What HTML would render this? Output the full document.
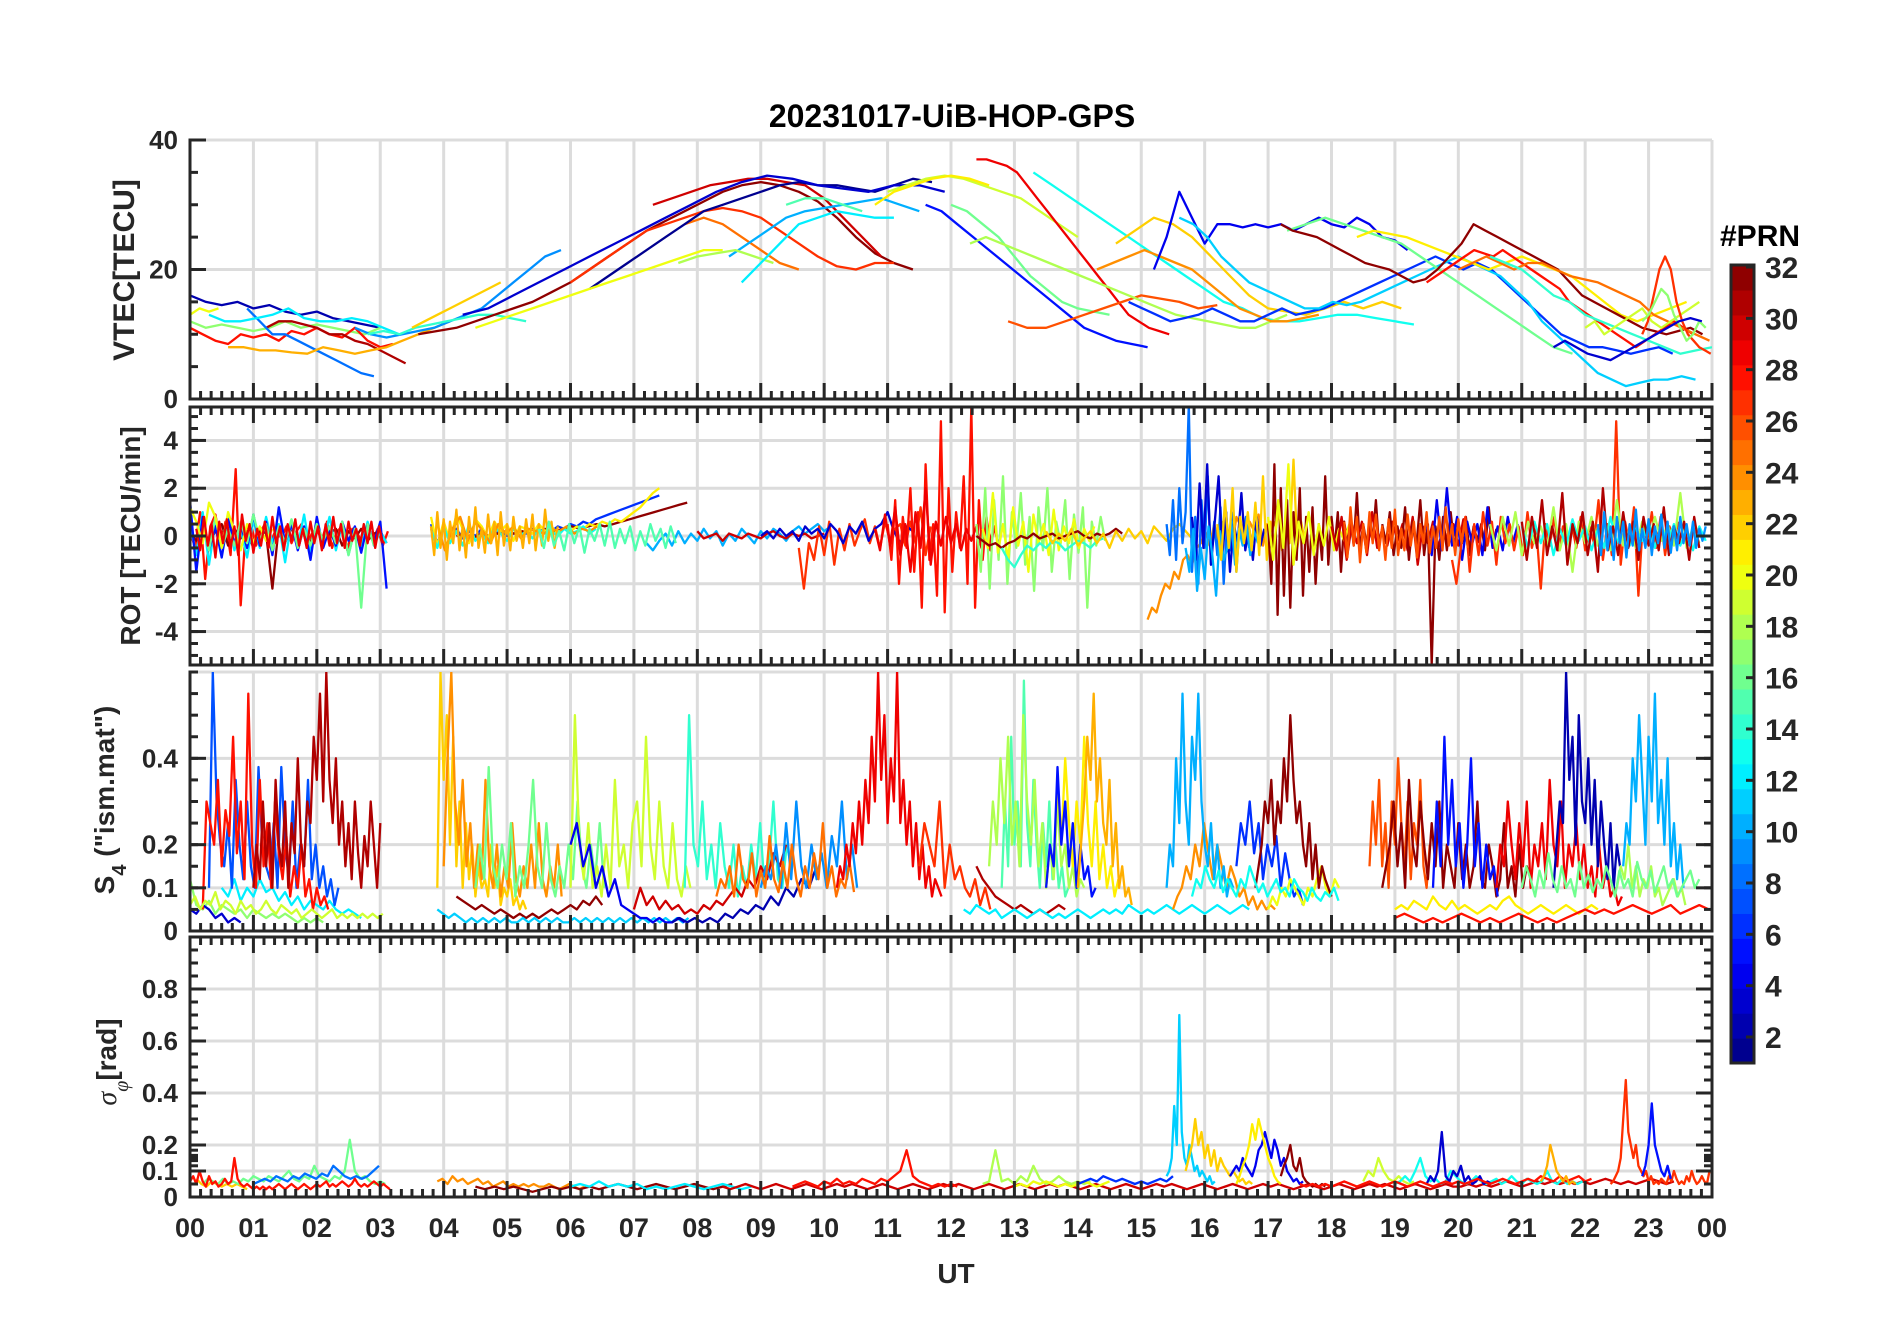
<!DOCTYPE html>
<html><head><meta charset="utf-8"><title>20231017-UiB-HOP-GPS</title>
<style>
html,body{margin:0;padding:0;background:#fff;}
svg{display:block;font-family:"Liberation Sans",Arial,sans-serif;}
</style></head>
<body>
<svg id="chart" width="1902" height="1330" viewBox="0 0 1902 1330" xmlns="http://www.w3.org/2000/svg">
<rect x="0" y="0" width="1902" height="1330" fill="#fff"/>
<text x="952" y="127" text-anchor="middle" font-size="32" font-weight="bold" fill="#000">20231017-UiB-HOP-GPS</text>
<text x="956" y="1283" text-anchor="middle" font-size="28" font-weight="bold" fill="#262626">UT</text>
<text transform="translate(134,270) rotate(-90)" text-anchor="middle" font-size="30" font-weight="bold" fill="#262626">VTEC[TECU]</text>
<text transform="translate(140,536) rotate(-90)" text-anchor="middle" font-size="28" font-weight="bold" fill="#262626">ROT [TECU/min]</text>
<text transform="translate(114,800) rotate(-90)" text-anchor="middle" font-size="28" font-weight="bold" fill="#262626">S<tspan font-size="20" dy="12">4</tspan><tspan dy="-12"> ("ism.mat")</tspan></text>
<text transform="translate(116,1062) rotate(-90)" text-anchor="middle" font-size="28" font-weight="bold" fill="#262626"><tspan font-family="Liberation Serif, serif" font-style="italic" font-weight="normal">σ</tspan><tspan font-size="20" dy="12" font-family="Liberation Serif, serif" font-style="italic" font-weight="normal">φ</tspan><tspan dy="-12">[rad]</tspan></text>
<text x="1720" y="246" font-size="30" font-weight="bold" fill="#000">#PRN</text>
<g id="layer"></g>
</svg>
<script>
// ---------- data ----------
const xTickHours = [0,1,2,3,4,5,6,7,8,9,10,11,12,13,14,15,16,17,18,19,20,21,22,23,24];
const xTickLabels = ["00","01","02","03","04","05","06","07","08","09","10","11","12","13","14","15","16","17","18","19","20","21","22","23","00"];
const vtecTicks = [0,20,40];
const rotTicks = [-4,-2,0,2,4];
const s4Ticks = [0,0.1,0.2,0.4];
const sigTicks = [0,0.1,0.2,0.4,0.6,0.8];
const prnTicks = [2,4,6,8,10,12,14,16,18,20,22,24,26,28,30,32];

// each series: [prn, startHour, stepHours, values]
const vtecSeries = [
[2,0,0.25,[16,15,14.5,15,14,14.5,13.5,13,13.5,12.5,12,11.5,11]],
[20,0,0.15,[13,14,13.5,14]],
[17,0,0.25,[12,11,11.5,11,10.5,11,12,11,11.5,11,10.5,10,11]],
[28,0,0.2,[11,10,9,8.5,10,9.5,10,9,10.5,10,11,10,9.5,11,9,8,8.5]],
[31,1.2,0.2,[11,12,12,11.5,11,10,10,9,8.5,7.5,6.5,5.5]],
[8,0.9,0.2,[14,12,10,10,9,8,7,6,5,4,3.5]],
[12,0.3,0.25,[13,12,12,12.5,13,14,12.5,12,12,12.5,12,11,10]],
[23,0.6,0.25,[8,8,7.5,7.5,7.2,7,8,7.5,7,7.5,8,9,10,11,12]],
[9,2.6,0.25,[11,10,9.5,10,10.5,11,12,13,14,16,18,20,22,23]],
[14,2.8,0.25,[10,10.5,10,11,11.5,12,12.5,13,13,12.5,12]],
[22,3.5,0.2,[11,12,13,14,15,16,17,18]],
[32,3.6,0.3,[10,10.5,11,12,13,14,15,16.5,18,20,22,24,26,27.5,29,30.5,32,33,33.5,33,32,30.5,28,25,22.5,21,20]],
[30,7.3,0.3,[30,31,32,33,33.5,34,34,33.5,33,31,28,25,22]],
[27,6.0,0.3,[18,20,22,24,26,27,28,29,29.5,29,28,26,24,22,20.5,20,21,21]],
[25,7.8,0.3,[27,28,27,25,23,21,20]],
[10,8.5,0.3,[22,24,26,28,29,29.5,30,30.5,31,30,29]],
[15,9.4,0.3,[30,31,31,30,29]],
[1,6.3,0.3,[17,19,21,23,25,27,29,30,31,32,33,33.5,33,33,32.5,32,33,34,33.5]],
[3,4.3,0.4,[13,14,16,18,20,22,24,26,28,30,32,33.5,34.5,34,33,32.5,32,33,33,32]],
[19,11.0,0.3,[32,33,34,34.5,34,33,32,31,29,27,25]],
[20,4.5,0.3,[11,12,13,14,15,16,17,18,19,20,21,22,23,23]],
[18,7.7,0.3,[21,22,22.5,23,22,21]],
[12,8.7,0.3,[18,21,24,27,28,29,28.5,28,28]],
[21,10.8,0.3,[30,32,33,34,34.5,34,33]],
[16,12.0,0.25,[30,29,27,25,22,19,17,15,14,13.5,13]],
[5,11.6,0.25,[30,29,27,25,23,21,19,17,15,13,11,10,9,8.5,8]],
[29,12.4,0.16,[37,37,36.5,36,35,33,31,29,27,25,23,21,19,17,15,13,12,11,10.5,10]],
[26,12.9,0.3,[12,11,11,12,13,14,15,16,15.5,15,14,14.5]],
[13,13.3,0.3,[35,33,31,29,27,25,23,21,19,17,15,14,12.5,12,12,12.5,13,13,12.5,12,11.5]],
[18,12.3,0.25,[24,25,24,23,22,21,20,19,18,17,16,15,14,13,12.5,12,11.5,11,11,12,13]],
[24,14.3,0.25,[20,21,22,23,22,21,20,18,16,14,13,12,12,12.5,13]],
[22,14.6,0.3,[24,26,28,27,25,22,19,16,14,13.5,13,14,15,14,15,14]],
[4,15.2,0.2,[20,25,32,28,24,27,27,26.5,27,26.5,27,26,27,28,27,26.5,28,27,25,24.5,23]],
[6,14.8,0.22,[15,14,13,12,12.5,13,14,13,12,12,13,14,13,13.5,14,15,16,17,18,19,20,21,22,21,20,21,20,18,16,14,12,10,9,8,8,7.5,7,7.5,8,7]],
[11,15.6,0.22,[28,27,25,22,20,18,17,16,15,14,14,15,14.5,15,16,17,18,19,20,21,22,21,20,19,17,15,12,10,8,6,4,3,2,2.5,3,3,3.5,3]],
[16,17.3,0.3,[26,27,28,27,26,25,24,22,20,18,16,14,12,10,8,7]],
[21,18.4,0.26,[25,26,25.5,25,24,23,22,21,20,21,22,21,20,19,17,15,13,12,13,14,15]],
[32,17.2,0.19,[27,26,25.5,25,24,23,22,21,20.5,20,19,18,18.5,20,22,24,27,26,25,24,23,22,21,20,18,16,15,14,13,12,11,10.5,10,10.5,11,10]],
[28,19.5,0.15,[18,19,20,21,22,23,22.5,22,23,22,21,20,19,18,17,15,14,13,12,11,10,9,8,9,10,11,12,11,10]],
[25,20.0,0.22,[20,21,22,21,20,21,21,20,19,18.5,18,17,16,15,13,12,11,10,9]],
[14,20.5,0.25,[22,21,20,18,16,15,13,12,11,10,9,8,7,7.5,8]],
[19,22.0,0.15,[11,12,10,11,12,13,14,12,11,12,13,14,15]],
[27,22.9,0.09,[10,12,16,20,22,20,15,12,10,9,8,7.5,7]],
[17,22.9,0.1,[12,13,15,17,16,13,11,9,10,12,11]],
[3,21.5,0.18,[8,9,8,7,6.5,6,7,8,9,10,11,12,12.5,12]]
];

const rotSeries = [
[28,0,0.08,[0.2,-0.5,1,-1.8,0.4,0.9,-0.3,0.6,-0.8,2.8,-2.9,0.3,0.5,-0.4,0.2,0.6,-0.2,0.3,-0.1,0.4,-0.3,0.2,0.5,-0.4,0.1,0.3,-0.2,0.6,-0.5,0.2,0.4,-0.6,0.3,0.1,-0.3,0.5,-0.2,0.3,-0.4,0.2]],
[32,0,0.1,[0.1,-0.2,0.4,-0.3,0.2,0.5,-0.4,0.3,-0.1,0.2,-0.5,0.3,0.1,-2.2,0.4,-0.2,0.3,-0.1,0.2,-0.3,0.4,-0.2,0.1,0.3,-0.4,0.2,-0.1,0.3,-0.2,0.1,0.2,-0.3]],
[12,0,0.1,[0.5,-0.8,1,-1.2,0.6,-0.4,0.9,-0.6,0.3,-0.9,0.7,-0.5,0.8,-0.3,0.5,-1.1,0.6,-0.4,0.9,-0.7,0.4,-0.2,0.8,-0.6,0.5,-0.8,0.3,-0.5,0.6,-0.4,0.2,-0.3]],
[5,0,0.1,[1.5,-1.5,0.8,-0.6,0.4,-0.9,0.7,-0.3,0.5,-0.5,0.9,-0.4,0.6,-0.8,1.2,-0.3,0.5,-0.6,0.4,-1,0.8,-0.5,0.3,-0.4,0.6,-0.2,0.4,-0.7,0.5,-0.3,0.6,-2.2]],
[16,0.2,0.1,[0.4,-0.6,0.8,-0.5,0.3,-0.4,0.6,-0.3,0.9,-0.2,0.5,-0.6,0.4,-0.3,0.7,-0.5,0.3,-0.4,0.5,-0.2,0.4,-0.3,0.6,-0.8,0.3,-3,0.5,-0.4]],
[20,0,0.1,[1.2,0.6,-0.3,1.4,0.8,-0.5,1,0.2,-0.6,0.5,-0.3,0.4,-0.2,0.3]],
[29,0.1,0.06,[0.3,-0.6,0.8,-0.4,0.5,-0.9,0.6,-0.3,0.7,-0.5,0.4,-0.8,0.9,-0.2,0.5,-0.7,0.3,-0.4,0.6,-0.5,0.8,-0.3,0.4,-0.6,0.5,-0.2,0.7,-0.4,0.3,-0.5,0.6,-0.3,0.4,-0.6,0.5,-0.4,0.8,-0.3,0.5,-0.5,0.6,-0.2,0.3,-0.4,0.5,-0.3,0.6,-0.5,0.4,-0.3]],
[6,3.8,0.1,[0.5,-0.3,0.4,-0.2,0.3,-0.1,0.2,0,0.3,-0.2,0.1,0.2,0,0.1,0.2,0.1,0.3,0.2,0.3,0.2,0.4,0.3,0.5,0.4,0.6,0.5,0.7,0.8,0.9,1,1.1,1.2,1.3,1.4,1.5,1.6,1.7]],
[32,4.2,0.13,[0,0.1,-0.1,0.1,0,0.1,0.2,0.1,0.2,0.1,0.2,0.3,0.2,0.3,0.4,0.3,0.4,0.5,0.4,0.5,0.6,0.7,0.8,0.9,1,1.1,1.2,1.3,1.4]],
[21,3.8,0.1,[0.8,-0.4,0.6,-0.2,0.9,0.3,-0.3,0.7,0.4,-0.1,0.6,0.2,0.5,-0.2,0.4,0.3,0.1,0.5,0.2,0.4,0.1,0.3,0.2,0.4,0.3,0.5,0.4,0.6,0.5,0.7,0.6,0.8,1,1.2,1.5,1.8,2]],
[13,3.8,0.1,[0.3,-0.5,0.4,-0.3,0.2,-0.4,0.5,-0.2,0.1,-0.3,0.4,0.1,-0.2,0.3,0,0.2,-0.1,0.3,0.1,0.2,0,0.3,0.1,0.2,0.4,0.1,0.3]],
[24,3.9,0.12,[0.5,-0.6,0.3,0.8,-0.2,0.6,0.2,-0.3,0.5,0.1,0.4,-0.1,0.3,0.2,0.1,0.3,0.2,0.4,0.1,0.3,0.2,0.4]],
[23,3.8,0.05,[0.4,-0.8,1,-0.5,0.7,-1,0.6,-0.3,1.1,-0.6,0.4,-0.9,0.8,-0.4,1.2,-0.5,0.3,-0.7,0.9,-0.3,0.6,-0.8,1,-0.4,0.5,-0.6,0.8,-0.2,0.4,-0.5,0.7,-0.3,0.9,-0.6,0.5,-0.4,1.1,-0.2,0.6,-0.5,0.4]],
[10,7.2,0.1,[-0.3,-0.6,-0.2,0.1,-0.4,0.2,-0.3,0.1,-0.2,0.3,-0.1,0.2,-0.4,0.1,-0.2,0.3,0,-0.3,0.2,-0.1,0.3,0.1,-0.2,0.2,0.4,0.1,0.3,0.5,0.2,0.4]],
[15,5.5,0.08,[0.3,-0.5,0.6,-0.4,0.2,-0.6,0.5,-0.3,0.4,-0.7,0.3,-0.2,0.5,-0.4,0.6,-0.5,0.3,-0.3,0.4,-0.6,0.2,-0.4,0.5,-0.2,0.3,-0.5,0.4,-0.3]],
[30,8.0,0.1,[0.2,-0.1,0,0.1,-0.2,0.1,0,-0.1,0.1,0,-0.1,0.1,0.2,0,-0.1,0.1,0,0.1,-0.1,0,0.1]],
[27,9.6,0.08,[-0.5,-2.2,-0.3,-1,0.4,-0.8,0.6,-1.2,0.3,-0.6,0.5,-0.4,0.2,0.7,-0.3,0.4,-0.5,0.6,-0.2,0.3,0.5,-0.4,0.6,-0.3,1.2,-0.8,0.4]],
[3,9.0,0.1,[0,0.2,-0.1,0.3,0,0.2,-0.2,0.4,0.1,0.3,-0.1,0.5,0.2,-0.3,0.4,0.1,0.6,-0.2,0.3,0.5,1,0.2,-0.3,0.4,0.2]],
[28,11.0,0.06,[0.5,-1,1.5,-2,0.8,-0.5,2,-1.5,1,-3,3,-1,0.5,-2.5,4.8,-3.2,2,-1.5,1,-0.5,2.5,-2,5.4,-3,1.5,-1,0.8,-0.6,0.4,-0.3]],
[29,10.8,0.08,[0.3,-0.6,0.9,-0.4,1.2,-0.8,0.5,-1.5,1,-0.5,2,-1.2,0.6,-0.4,0.8,-0.3,0.5,-0.6,0.3,-0.2,0.4,-0.5,0.6,-0.3]],
[17,12.4,0.07,[0.5,-1.5,2,-2.2,1.5,-1,2.5,-2,1,-0.5,1.8,-1.2,0.8,-2.3,1.2,-0.6,2,-1.5,0.6,-0.3,1.5,-1.8,0.9,-0.7,1.2,-3,0.6,-0.4,0.8,-0.2]],
[20,12.5,0.08,[0.3,-0.5,1.8,-0.7,0.5,-1,1.2,-0.4,0.6,-1.5,0.9,-0.3,0.5,-0.8,1.1,-0.6,0.4,-0.3,0.7,-0.5,0.3,-0.2,0.4]],
[32,12.4,0.1,[0,-0.2,-0.4,-0.3,-0.5,-0.3,-0.2,0,-0.1,0.1,-0.1,0,0.1,-0.1,0,0.1,0.2,0,-0.1,0.1,0,0.1,0.3,0.1]],
[14,12.8,0.1,[-0.5,-1,-1.3,-0.8,-0.4,-0.6,-0.3,-0.5,-0.2,-0.3,-0.6,-0.4,-0.2,-0.3,-0.5,-0.2,-0.1]],
[22,13.5,0.1,[0.2,-0.3,0.1,-0.2,0.3,-0.4,-0.1,0.2,-0.3,0.1,-0.5,0.2,-0.2,0.3,-0.1,0.2,-0.3,0.4,0.1,-0.2,0.3,0.5,0.2,-0.1]],
[24,15.1,0.07,[-3.5,-3,-3.2,-2.5,-2,-2.2,-1.5,-1.8,-1,-0.8,-1.2,-0.5,-0.3,0.2,-0.4,0.5,-0.2,0.6,0.3,-0.5,0.8,0.4,-0.3,0.6,0.2,0.9,-0.4,0.5,0.3,0.7]],
[8,15.4,0.05,[0.5,-0.8,1.5,-1,2,-0.3,1,5.5,-1.5,0.8,-2,1.5,-0.5,2.5,-1.2,0.6,-0.8,1.2,-2,0.4,-0.6,1,-1.5,0.5,-0.3,0.8,-0.5]],
[3,15.8,0.06,[0.8,-1,2.2,-0.5,3,-1.2,0.6,2.5,-0.8,1,-1.5,0.5,-0.3,1.8,-0.6,0.4,-1,0.8,-0.4,0.3]],
[10,15.7,0.06,[-0.5,-1.5,0.3,-2.3,-0.5,-1.8,0.4,-0.8,-2.5,0.2,-1,-0.5,0.6,-1.2,0.3,-0.4,0.5,-0.8,0.2,-0.3]],
[22,16.2,0.06,[0.5,-1,1.5,-0.5,2,-1.5,0.8,-0.3,1,-0.6,1.4,-0.8,2.5,-1,0.6,-0.4,1.2,-0.6,0.9,-0.3,3.2,-0.5,0.6,-0.2]],
[32,17.0,0.05,[0.5,-2,3,-3.3,2,-2.5,1.5,-3,1,-1,2,-2.5,0.8,-1.5,1.2,-2,0.5,-1,2.5,-1.2,0.8,-0.5,1,-1.5,0.6,-0.3,0.8,-0.4,1.8,-0.6,0.5,-0.3,0.4,-0.2,1.5,-0.5]],
[20,17.0,0.08,[0.8,-1,1.5,-0.5,3,-1.2,0.6,-0.3,1,-0.8,0.5,-0.4,0.8,-0.6,0.3,-0.2,0.5]],
[30,18.0,0.08,[0.4,-0.6,0.8,-1,0.5,-0.3,0.6,-0.8,1,-0.5,0.3,-0.4,0.6,-0.2,0.5,-0.6,0.8,-1.2,0.4,-0.3,0.6,-0.5,0.3,-0.2,0.5,-0.4,0.7,-0.6,0.3,-0.3]],
[32,18.8,0.06,[0.5,-0.3,1,-0.8,0.4,-0.5,1.2,-1,0.6,-0.4,1.5,-0.8,0.5,-5.4,0.4,-1,0.8,-0.6,1,-0.5,0.6,-0.3,0.8,-0.8,0.4,-0.2,0.5,-0.6,1.2,-0.5,0.3]],
[4,19.5,0.08,[0.5,-0.8,1.5,-0.6,2,-0.4,0.8,-1,0.6,-0.3,0.5,-0.8,1.2,-0.5,0.4,-0.6,0.8,-0.3,0.5]],
[27,19.9,0.07,[-1,-2,-0.5,0.8,-1.5,0.5,-0.8,1,-0.4,0.6,-1.2,0.8,-0.3,0.5,-0.6,0.4,-0.8,1,-0.5,0.3,-2.2,0.5,-0.4,0.8,-0.6,0.4,-0.3,0.5,-0.5,0.8,-0.6,0.4,-0.3,1.5,-1,0.5,-0.8,4.8,-1.2,0.6,-0.4,1.2,-2.5,0.6,-0.3,1,-0.5,0.8,-0.8,0.4,-0.2,0.6]],
[18,20.5,0.1,[0.5,-0.6,0.8,-0.4,1,-0.8,0.6,-0.3,0.4,-0.5,1.2,-0.6,0.5,-1.5,0.6,-0.3,0.8,-0.4,0.5,-0.6,1.5,-0.4,0.3,-0.5,0.6,-0.3,0.8,-0.2,0.5,-0.4,1.8,-0.5,0.4,-0.3]],
[13,21.0,0.1,[0.4,-0.5,0.6,-0.3,0.5,-0.8,0.3,-0.4,0.7,-0.2,0.4,-0.6,0.3,-0.5,0.8,-0.3,0.5,-0.4,0.3,-0.2,0.6,-0.5,0.4,-0.3,0.5,-0.4,0.3,-0.6,0.4,-0.2]],
[31,21.0,0.08,[0.6,-1,0.8,-0.5,1.5,-0.8,0.4,-0.6,1.8,-1.2,0.5,-0.3,1,-0.8,0.6,-1.5,2,-0.6,0.4,-0.8,1,-0.5,0.6,-1,0.8,-0.4,0.5,-0.6,1.2,-0.8,0.4,-0.3,0.6,-1,0.8,-0.5]],
[26,18.2,0.05,[0.6,-0.9,1.2,-0.4,0.8,-1.1,0.5,-0.7,1,-0.3,0.9,-0.6,0.4,-1,0.7,-0.5,1.1,-0.8,0.3,-0.6,0.9,-0.4,0.6,-0.9,0.5,-0.3,1,-0.7,0.4,-0.5,0.8,-0.6,1.2,-0.4,0.5,-0.8,0.7,-0.3,0.6,-0.5]],
[9,22.2,0.05,[0.5,-0.8,1,-0.6,0.4,-1,0.8,-0.3,0.6,-0.9,0.5,-0.4,1.1,-0.6,0.3,-0.5,0.7,-0.8,0.4,-0.3,0.9,-0.5,0.6,-0.7,0.4,-0.6,0.8,-0.3,0.5,-0.4,0.6,-0.5,0.3,-0.2,0.4]]
];

const s4Series = [
[17,0.0,0.1,[0.12,0.06,0.05,0.07,0.04,0.06,0.05,0.04,0.05,0.03,0.05,0.04,0.03,0.04,0.03,0.04,0.03,0.02,0.03,0.02,0.03,0.02]],
[12,0.5,0.1,[0.1,0.08,0.12,0.07,0.1,0.08,0.12,0.09,0.1,0.07,0.09,0.06,0.08,0.05,0.07,0.06,0.05,0.07,0.05,0.04,0.05,0.04,0.03]],
[3,0.0,0.1,[0.05,0.04,0.06,0.05,0.03,0.04,0.02,0.03,0.02]],
[7,0.3,0.06,[0.1,0.6,0.3,0.2,0.15,0.25,0.1,0.35,0.2,0.12,0.3,0.15,0.1,0.38,0.2,0.15,0.12,0.25,0.1,0.38,0.2,0.12,0.3,0.1,0.2,0.15,0.35,0.12,0.2,0.1,0.15,0.08,0.12,0.06,0.1]],
[28,0.2,0.06,[0.05,0.3,0.25,0.2,0.35,0.15,0.28,0.22,0.45,0.18,0.3,0.12,0.55,0.2,0.1,0.35,0.15,0.25,0.1,0.3,0.18,0.12,0.22,0.08,0.15,0.1,0.2,0.08,0.12,0.05,0.1,0.06,0.08,0.05]],
[31,1.0,0.05,[0.1,0.2,0.12,0.3,0.15,0.25,0.1,0.35,0.2,0.15,0.3,0.1,0.25,0.18,0.4,0.2,0.15,0.3,0.25,0.45,0.35,0.55,0.3,0.6,0.35,0.25,0.4,0.2,0.3,0.15,0.25,0.12,0.3,0.18,0.1,0.22,0.15,0.3,0.2,0.1,0.25]],
[19,0.0,0.08,[0.06,0.08,0.05,0.07,0.06,0.09,0.05,0.07,0.06,0.04,0.07,0.05,0.06,0.04,0.05,0.07,0.05,0.04,0.06,0.05,0.04,0.05,0.03,0.04,0.05,0.04,0.03,0.04,0.05,0.03,0.04,0.03,0.04,0.03,0.04,0.03,0.04,0.03,0.04]],
[32,4.2,0.1,[0.08,0.07,0.06,0.05,0.06,0.05,0.04,0.05,0.04,0.03,0.04,0.03,0.04,0.03,0.04,0.05,0.04,0.05,0.06,0.05,0.07,0.06,0.08,0.06]],
[22,3.9,0.05,[0.1,0.6,0.35,0.5,0.2,0.45,0.15,0.3,0.1,0.25,0.12,0.2,0.08,0.15,0.1,0.12,0.08,0.2,0.1,0.15,0.06,0.1,0.08,0.12,0.06,0.08,0.05,0.07,0.05]],
[24,4.0,0.06,[0.15,0.4,0.6,0.3,0.2,0.35,0.15,0.25,0.1,0.2,0.12,0.35,0.15,0.1,0.2,0.08,0.15,0.1,0.25,0.12,0.08,0.15,0.1,0.2,0.1,0.25,0.12,0.08,0.15,0.1,0.2,0.08]],
[16,4.5,0.07,[0.1,0.2,0.12,0.38,0.15,0.1,0.2,0.12,0.25,0.08,0.15,0.1,0.2,0.35,0.15,0.1,0.25,0.12,0.08,0.15,0.1,0.2,0.12,0.3,0.15,0.1,0.2,0.12,0.25,0.1]],
[11,3.9,0.09,[0.05,0.04,0.03,0.04,0.03,0.02,0.03,0.02,0.03,0.02,0.03,0.02,0.03,0.02,0.02,0.03,0.02,0.03,0.02,0.03,0.02,0.03,0.02,0.02,0.03,0.02,0.03,0.02,0.03,0.02,0.03,0.02,0.03,0.02,0.03,0.02,0.03,0.02,0.03,0.02,0.03,0.02,0.03,0.02,0.03]],
[19,6.0,0.07,[0.1,0.5,0.2,0.12,0.25,0.1,0.15,0.08,0.2,0.1,0.35,0.15,0.2,0.1,0.25,0.3,0.15,0.45,0.2,0.12,0.3,0.15,0.1,0.25,0.12,0.08,0.15,0.1]],
[4,6.0,0.1,[0.2,0.25,0.15,0.2,0.1,0.15,0.08,0.12,0.06,0.05,0.04,0.03,0.03,0.02,0.03,0.02,0.02,0.03,0.02]],
[2,7.6,0.12,[0.02,0.03,0.02,0.03,0.02,0.03,0.02,0.04,0.03,0.05,0.04,0.06,0.05,0.08,0.06,0.1,0.08,0.12,0.1,0.15]],
[14,7.8,0.07,[0.1,0.5,0.2,0.15,0.3,0.12,0.2,0.1,0.25,0.15,0.1,0.2,0.08,0.15,0.1,0.2,0.12,0.25,0.1,0.15,0.3,0.12,0.1,0.2,0.15]],
[30,7.0,0.1,[0.05,0.1,0.06,0.08,0.05,0.07,0.05,0.06,0.04,0.05,0.04,0.06,0.05,0.07,0.06,0.08,0.1,0.08,0.12,0.1,0.15,0.12,0.18,0.15,0.2]],
[9,9.0,0.08,[0.1,0.15,0.12,0.2,0.1,0.25,0.12,0.3,0.15,0.1,0.2,0.12,0.18,0.1,0.22,0.15,0.3,0.12,0.2,0.1]],
[25,8.3,0.07,[0.08,0.12,0.1,0.15,0.08,0.2,0.12,0.1,0.18,0.08,0.14,0.1,0.22,0.12,0.09,0.16,0.1,0.2,0.12,0.08,0.15,0.1,0.18,0.12,0.25,0.1,0.15,0.08,0.12,0.1,0.16,0.09]],
[29,10.2,0.05,[0.1,0.15,0.12,0.2,0.15,0.25,0.18,0.3,0.2,0.35,0.25,0.45,0.3,0.6,0.35,0.5,0.25,0.4,0.3,0.6,0.25,0.35,0.2,0.3,0.15,0.25,0.12,0.2,0.1,0.15,0.08,0.12,0.1,0.08]],
[27,11.5,0.08,[0.15,0.25,0.2,0.15,0.3,0.1,0.2,0.12,0.15,0.1,0.08,0.12,0.06,0.1,0.05]],
[31,12.4,0.1,[0.15,0.12,0.1,0.08,0.07,0.06,0.05,0.06,0.05,0.04,0.05,0.04,0.05,0.06,0.05]],
[15,12.8,0.05,[0.1,0.3,0.15,0.45,0.2,0.3,0.15,0.58,0.25,0.15,0.35,0.2,0.1,0.25,0.15,0.3,0.12,0.2,0.1,0.15,0.08,0.1]],
[18,12.6,0.06,[0.15,0.3,0.2,0.4,0.25,0.45,0.2,0.3,0.15,0.5,0.3,0.2,0.35,0.15,0.25,0.1,0.2,0.12,0.3,0.15,0.2,0.1,0.15,0.08,0.12,0.1]],
[21,13.5,0.06,[0.1,0.2,0.15,0.35,0.2,0.4,0.25,0.15,0.3,0.2,0.45,0.25,0.15,0.3,0.12,0.2,0.1,0.15,0.08,0.12]],
[5,13.5,0.06,[0.1,0.2,0.15,0.38,0.2,0.3,0.15,0.25,0.1,0.2,0.12,0.15,0.08,0.1]],
[23,14.0,0.05,[0.1,0.2,0.3,0.45,0.35,0.55,0.3,0.4,0.25,0.2,0.35,0.15,0.25,0.1,0.15,0.08,0.1,0.06]],
[12,12.2,0.1,[0.05,0.04,0.06,0.05,0.04,0.05,0.03,0.04,0.05,0.04,0.03,0.04,0.05,0.04,0.03,0.04,0.03,0.04,0.05,0.04,0.03,0.04,0.05,0.04,0.05,0.04,0.06,0.05,0.04,0.05,0.04,0.05,0.06,0.05,0.04,0.05,0.06,0.05,0.04,0.05,0.06,0.05,0.04,0.05,0.06,0.05]],
[24,15.5,0.07,[0.05,0.08,0.1,0.15,0.12,0.2,0.15,0.25,0.18,0.12,0.2,0.15,0.1,0.15,0.12,0.08,0.1,0.06,0.08,0.05,0.07,0.05,0.06,0.05]],
[10,15.4,0.05,[0.1,0.2,0.15,0.4,0.25,0.55,0.3,0.2,0.45,0.35,0.55,0.3,0.2,0.15,0.25,0.12,0.2,0.1,0.15,0.08,0.12,0.1]],
[6,16.5,0.07,[0.15,0.25,0.2,0.3,0.18,0.25,0.12,0.2,0.15,0.22,0.1,0.18,0.12,0.08,0.1,0.06]],
[20,17.0,0.07,[0.05,0.08,0.06,0.1,0.08,0.12,0.1,0.08,0.06,0.1,0.08,0.12,0.15,0.1,0.08,0.12,0.1]],
[32,16.8,0.05,[0.1,0.15,0.2,0.3,0.25,0.35,0.2,0.3,0.25,0.4,0.3,0.5,0.35,0.25,0.3,0.2,0.15,0.25,0.12,0.2,0.1,0.15,0.12,0.1,0.08]],
[13,15.8,0.07,[0.08,0.12,0.1,0.15,0.12,0.1,0.14,0.09,0.12,0.1,0.08,0.12,0.1,0.15,0.12,0.09,0.11,0.08,0.1,0.12,0.09,0.1,0.08,0.12,0.1,0.09,0.07,0.1,0.08,0.07,0.09,0.08,0.1,0.07]],
[21,19.0,0.1,[0.05,0.06,0.05,0.07,0.06,0.05,0.08,0.06,0.05,0.07,0.05,0.06,0.05,0.04,0.05,0.06,0.05,0.07,0.08,0.06,0.05,0.04,0.05,0.06,0.05,0.04,0.05,0.06,0.05,0.04,0.05,0.06,0.05]],
[28,19.0,0.15,[0.03,0.04,0.03,0.02,0.03,0.02,0.03,0.04,0.03,0.02,0.03,0.02,0.03,0.04,0.03,0.02,0.03,0.02,0.03,0.04,0.05,0.04,0.05,0.04,0.05,0.06,0.05,0.04,0.05,0.06,0.04,0.05,0.06,0.05]],
[26,18.6,0.05,[0.15,0.3,0.2,0.35,0.15,0.25,0.1,0.3,0.2,0.4,0.25,0.15,0.3,0.12,0.25,0.2,0.35,0.15,0.1,0.2]],
[32,18.8,0.06,[0.1,0.15,0.2,0.3,0.15,0.25,0.1,0.35,0.2,0.15,0.3,0.2,0.12,0.25,0.15,0.3,0.1,0.2,0.15,0.1,0.25,0.12,0.2,0.1,0.15,0.3,0.12,0.1,0.2,0.15,0.08,0.12,0.25,0.1,0.15,0.08,0.2,0.1,0.15,0.12]],
[5,19.6,0.06,[0.1,0.3,0.15,0.45,0.2,0.35,0.15,0.25,0.1,0.2,0.4,0.15,0.25,0.1,0.2,0.12,0.15,0.08]],
[29,20.6,0.06,[0.1,0.2,0.15,0.3,0.2,0.12,0.25,0.15,0.3,0.1,0.2,0.15,0.25,0.12,0.35,0.2,0.15,0.3,0.1,0.2,0.15,0.25,0.12,0.2,0.1,0.15,0.08,0.2,0.1,0.15,0.08,0.1,0.06,0.08]],
[2,21.5,0.05,[0.1,0.2,0.3,0.25,0.6,0.35,0.45,0.2,0.5,0.3,0.25,0.4,0.2,0.35,0.15,0.3,0.2,0.12,0.25,0.1,0.2,0.15]],
[18,22.5,0.06,[0.1,0.15,0.12,0.2,0.1,0.15,0.08,0.12,0.1,0.15,0.08,0.1,0.06,0.08,0.1,0.12,0.08,0.1,0.06]],
[10,22.6,0.05,[0.15,0.25,0.2,0.4,0.3,0.5,0.35,0.2,0.45,0.3,0.55,0.25,0.35,0.2,0.4,0.15,0.25,0.12,0.2,0.1]],
[16,21.0,0.07,[0.1,0.15,0.12,0.08,0.14,0.1,0.18,0.12,0.09,0.15,0.1,0.12,0.08,0.16,0.1,0.13,0.09,0.12,0.1,0.15,0.12,0.08,0.14,0.1,0.12,0.08,0.16,0.12,0.1,0.14,0.09,0.12,0.15,0.1,0.12,0.08,0.1,0.12,0.14,0.1,0.12]]
];

const sigSeries = [
[22,0.1,0.08,[0.07,0.05,0.04,0.06,0.05,0.04,0.05,0.04,0.05,0.04,0.03]],
[16,0.2,0.08,[0.05,0.07,0.06,0.05,0.07,0.05,0.06,0.05,0.07,0.06,0.08,0.07,0.06,0.08,0.07,0.06,0.08,0.1,0.07,0.06,0.08,0.07,0.12,0.08,0.07,0.06,0.08,0.07,0.1,0.22,0.1,0.07,0.08,0.06,0.05,0.06,0.05]],
[8,1.0,0.09,[0.05,0.06,0.07,0.06,0.08,0.07,0.06,0.08,0.07,0.09,0.08,0.07,0.09,0.08,0.12,0.1,0.08,0.07,0.08,0.07,0.08,0.1,0.12]],
[28,0.0,0.05,[0.06,0.08,0.05,0.1,0.06,0.04,0.08,0.05,0.06,0.04,0.05,0.07,0.05,0.06,0.15,0.07,0.05,0.04,0.05,0.04,0.03,0.04,0.03,0.04,0.03,0.04,0.03,0.04,0.05,0.04,0.03,0.04,0.05,0.04,0.03,0.04,0.05,0.04,0.03,0.04,0.05,0.04,0.05,0.06,0.04,0.05,0.04,0.05,0.06,0.05,0.04,0.05,0.07,0.05,0.04,0.05,0.04,0.05,0.06,0.05,0.04,0.05,0.04,0.03]],
[24,3.9,0.08,[0.06,0.07,0.05,0.08,0.06,0.07,0.05,0.06,0.07,0.05,0.06,0.04,0.05,0.06,0.04,0.05,0.04,0.05,0.04,0.05,0.04,0.04,0.05,0.04,0.03,0.04,0.05,0.04,0.03,0.04]],
[32,4.5,0.15,[0.04,0.03,0.04,0.03,0.04,0.03,0.02,0.03,0.04,0.03,0.04,0.03,0.04,0.03,0.04,0.05,0.04,0.03,0.04,0.05,0.04,0.03,0.04,0.05,0.04,0.03,0.04,0.05]],
[12,6.0,0.15,[0.04,0.05,0.04,0.06,0.04,0.05,0.04,0.05,0.03,0.04,0.03,0.04,0.05,0.04,0.03,0.04,0.05,0.04,0.03,0.04]],
[30,8.4,0.12,[0.04,0.03,0.04,0.05,0.04,0.03,0.04,0.05,0.04,0.03,0.04,0.05,0.04,0.03,0.04,0.05,0.04,0.05,0.04,0.03,0.04,0.05,0.04,0.03,0.04,0.05,0.04,0.03,0.04,0.05,0.04,0.05,0.04,0.03,0.04,0.05,0.04,0.03,0.04,0.05,0.04,0.03,0.04,0.05,0.04,0.05,0.04,0.03,0.04,0.05,0.04,0.03,0.04,0.05,0.04,0.03,0.04,0.05,0.04,0.05,0.04,0.03,0.04,0.05,0.04,0.03,0.04,0.05,0.04,0.03,0.04,0.05,0.04,0.05,0.04,0.03,0.04,0.05,0.04,0.03,0.04,0.05,0.04,0.03,0.04,0.05,0.04,0.05,0.04,0.03,0.04,0.05,0.04,0.03,0.04,0.05,0.04,0.04,0.05,0.04,0.05,0.04,0.05,0.06,0.05,0.04,0.05,0.06,0.05,0.06,0.05,0.06,0.05,0.06,0.05,0.06,0.07,0.06,0.05,0.06,0.05,0.06,0.07,0.06,0.05,0.06]],
[28,9.5,0.1,[0.04,0.05,0.06,0.05,0.04,0.06,0.05,0.07,0.05,0.06,0.05,0.07,0.06,0.05,0.07,0.06,0.08,0.1,0.18,0.08,0.06,0.05,0.04,0.05,0.04,0.05,0.04]],
[18,12.5,0.1,[0.05,0.06,0.18,0.06,0.07,0.05,0.08,0.06,0.12,0.07,0.05,0.06,0.08,0.06,0.05,0.06,0.05,0.06]],
[20,13.0,0.1,[0.04,0.05,0.04,0.06,0.05,0.06,0.05,0.04,0.05,0.04,0.05,0.06,0.05,0.04,0.05,0.06]],
[6,14.0,0.1,[0.05,0.06,0.07,0.06,0.08,0.07,0.06,0.07,0.06,0.05,0.06,0.05,0.06,0.07,0.06,0.08]],
[11,15.4,0.04,[0.08,0.1,0.15,0.35,0.2,0.7,0.25,0.15,0.12,0.2,0.15,0.1,0.12,0.08,0.1,0.08,0.06,0.08,0.05,0.06]],
[22,15.7,0.05,[0.1,0.15,0.2,0.3,0.2,0.25,0.15,0.2,0.12,0.18,0.1,0.15,0.12,0.1,0.08,0.1,0.08,0.06,0.07,0.05,0.06,0.05]],
[4,16.4,0.05,[0.08,0.1,0.12,0.1,0.15,0.12,0.1,0.08,0.12,0.18,0.2,0.25,0.2,0.15,0.22,0.18,0.12,0.15,0.1,0.08,0.06,0.07,0.05,0.06]],
[21,16.5,0.05,[0.05,0.08,0.12,0.15,0.2,0.28,0.22,0.3,0.25,0.2,0.15,0.12,0.08,0.06,0.05]],
[32,17.2,0.05,[0.08,0.12,0.15,0.2,0.12,0.1,0.15,0.08,0.06,0.05,0.04,0.05,0.04,0.05,0.04]],
[19,18.5,0.08,[0.06,0.1,0.08,0.15,0.1,0.07,0.06,0.08,0.06,0.05,0.06]],
[13,19.0,0.08,[0.05,0.06,0.08,0.06,0.1,0.15,0.08,0.06,0.07,0.05,0.06,0.1,0.08,0.06,0.05,0.06,0.08,0.06,0.05,0.06,0.07,0.05,0.06,0.08,0.06,0.05,0.07,0.06,0.05,0.06,0.1,0.06,0.05,0.07,0.05,0.06,0.05,0.06]],
[3,19.5,0.06,[0.05,0.08,0.06,0.1,0.25,0.08,0.06,0.1,0.08,0.12,0.06,0.08,0.05,0.06,0.08,0.05,0.06,0.05]],
[28,17.5,0.1,[0.05,0.04,0.05,0.04,0.05,0.04,0.05,0.06,0.05,0.04,0.05,0.06,0.05,0.04,0.05,0.06,0.05,0.04,0.05,0.06,0.05,0.04,0.05,0.06,0.05,0.06,0.05,0.06,0.07,0.06,0.05,0.06,0.07,0.06,0.05,0.06,0.07,0.06,0.08,0.07,0.06,0.08,0.06,0.07,0.08,0.06,0.07]],
[23,21.3,0.05,[0.06,0.08,0.12,0.2,0.15,0.1,0.08,0.06,0.08,0.05,0.06,0.05]],
[27,22.4,0.04,[0.05,0.06,0.08,0.1,0.15,0.3,0.45,0.25,0.2,0.15,0.2,0.12,0.1,0.08,0.1,0.06,0.08,0.05,0.06,0.05,0.07,0.06,0.05,0.08,0.06,0.1,0.07,0.05,0.06,0.05,0.08,0.06,0.1,0.07,0.05,0.06,0.08,0.06,0.05,0.1]],
[5,22.9,0.05,[0.08,0.12,0.2,0.36,0.2,0.15,0.1,0.08,0.12,0.07]]
];

// ---------- drawing ----------
const NS = "http://www.w3.org/2000/svg";
const layer = document.getElementById('layer');
const X0 = 190, X1 = 1712;
const xScale = h => X0 + h * (X1 - X0) / 24;
function jet(i){
  const v = (i - 0.5) / 32;
  const c = t => Math.max(0, Math.min(1, t));
  const r = c(1.5 - Math.abs(4*v - 3)), g = c(1.5 - Math.abs(4*v - 2)), b = c(1.5 - Math.abs(4*v - 1));
  return `rgb(${Math.round(r*255)},${Math.round(g*255)},${Math.round(b*255)})`;
}
function mk(tag, attrs, parent){
  const e = document.createElementNS(NS, tag);
  for (const k in attrs) e.setAttribute(k, attrs[k]);
  (parent || layer).appendChild(e);
  return e;
}
function range(a, b, s){ const r=[]; for(let v=a; v<=b+1e-9; v+=s) r.push(+v.toFixed(4)); return r; }

const panels = [
  {name:'vtec', top:140, bot:399, min:0, max:40, ticks:vtecTicks, minor:range(0,40,5), series:vtecSeries, boxTop:false, boxRight:false, topTicks:false},
  {name:'rot', top:407, bot:665, min:-5.4, max:5.4, ticks:rotTicks, minor:range(-5,5,0.5), series:rotSeries, boxTop:true, boxRight:true, topTicks:true},
  {name:'s4', top:672, bot:931, min:0, max:0.6, ticks:s4Ticks, minor:range(0,0.6,0.05), series:s4Series, boxTop:false, boxRight:true, topTicks:false},
  {name:'sigma-phi', top:937, bot:1197, min:0, max:1.0, ticks:sigTicks, minor:range(0,1,0.05).concat(range(0.1,0.2,0.02)), series:sigSeries, boxTop:true, boxRight:true, topTicks:true}
];

panels.forEach((p, pi) => {
  const ys = v => p.bot - (v - p.min) / (p.max - p.min) * (p.bot - p.top);
  const g = mk('g', {});
  
  
  const cp = mk('clipPath', {id:'clip'+pi}, g);
  mk('rect', {x:X0, y:p.top, width:X1-X0, height:p.bot-p.top}, cp);
  const grid = mk('g', {stroke:'#dcdcdc', 'stroke-width':3}, g);
  
  
  xTickHours.forEach(h => {
    const l = mk('line', {x1:xScale(h), x2:xScale(h), y1:p.top, y2:p.bot}, grid);
    
    
  });
  p.ticks.forEach(v => {
    const l = mk('line', {x1:X0, x2:X1, y1:ys(v), y2:ys(v)}, grid);
    
    
  });
  if (!p.boxTop) { const l = mk('line', {x1:X0, x2:X1, y1:p.top, y2:p.top}, grid);   }
  const dg = mk('g', {'clip-path':'url(#clip'+pi+')', fill:'none', 'stroke-width':2.3, 'stroke-linejoin':'round'}, g);
  
  
  p.series.forEach(s => {
    const [prn, t0, dt, vals] = s;
    const pts = vals.map((v, i) => xScale(t0 + i*dt).toFixed(1) + ',' + ys(v).toFixed(1)).join(' ');
    const pl = mk('polyline', {points:pts, stroke:jet(prn)}, dg);
    
    
  });
  const ax = mk('g', {stroke:'#262626', 'stroke-width':3, fill:'none'}, g);
  
  
  mk('line', {x1:X0, x2:X0, y1:p.top-1.5, y2:p.bot+1.5}, ax);
  mk('line', {x1:X0-1.5, x2:X1+1.5, y1:p.bot, y2:p.bot}, ax);
  if (p.boxTop) mk('line', {x1:X0-1.5, x2:X1+1.5, y1:p.top, y2:p.top}, ax);
  if (p.boxRight) mk('line', {x1:X1, x2:X1, y1:p.top-1.5, y2:p.bot+1.5}, ax);
  for (let m = 0; m <= 144; m++) {
    const x = xScale(m/6), len = (m % 6 === 0) ? 16 : 8;
    mk('line', {x1:x, x2:x, y1:p.bot, y2:p.bot-len}, ax);
    if (p.topTicks) mk('line', {x1:x, x2:x, y1:p.top, y2:p.top+len}, ax);
  }
  p.minor.forEach(v => {
    if (v < p.min || v > p.max) return;
    mk('line', {x1:X0, x2:X0+8, y1:ys(v), y2:ys(v)}, ax);
    if (p.boxRight) mk('line', {x1:X1, x2:X1-8, y1:ys(v), y2:ys(v)}, ax);
  });
  p.ticks.forEach(v => {
    mk('line', {x1:X0, x2:X0+16, y1:ys(v), y2:ys(v)}, ax);
    if (p.boxRight) mk('line', {x1:X1, x2:X1-16, y1:ys(v), y2:ys(v)}, ax);
    const t = mk('text', {x:178, y:ys(v)+9, 'text-anchor':'end', 'font-size':26, 'font-weight':'bold', fill:'#262626', stroke:'none'}, g);
    t.textContent = String(v);
    
    
  });
});

xTickHours.forEach((h, i) => {
  const t = mk('text', {x:xScale(h), y:1237, 'text-anchor':'middle', 'font-size':27, 'font-weight':'bold', fill:'#262626'});
  t.textContent = xTickLabels[i];
  
  
});

const CB = {x:1731, w:23, top:265, bot:1063};
const cbg = mk('g', {});


const binH = (CB.bot - CB.top) / 32;
for (let i = 1; i <= 32; i++) {
  const r = mk('rect', {x:CB.x, y:CB.bot - i*binH, width:CB.w, height:binH+0.6, fill:jet(i)}, cbg);
  
  
}
const cbBox = mk('rect', {x:CB.x, y:CB.top, width:CB.w, height:CB.bot-CB.top, fill:'none', stroke:'#262626', 'stroke-width':3}, cbg);


const cbY = k => CB.bot - 26 - (k - 2) * ((CB.bot - 26 - CB.top - 2) / 30);
prnTicks.forEach(k => {
  const y = cbY(k);
  mk('line', {x1:CB.x+CB.w, x2:CB.x+CB.w-8, y1:y, y2:y, stroke:'#262626', 'stroke-width':3}, cbg);
  const t = mk('text', {x:1765, y:y+11, 'font-size':30, 'font-weight':'bold', fill:'#262626'}, cbg);
  t.textContent = String(k);
  
  
});
</script>
</body></html>
